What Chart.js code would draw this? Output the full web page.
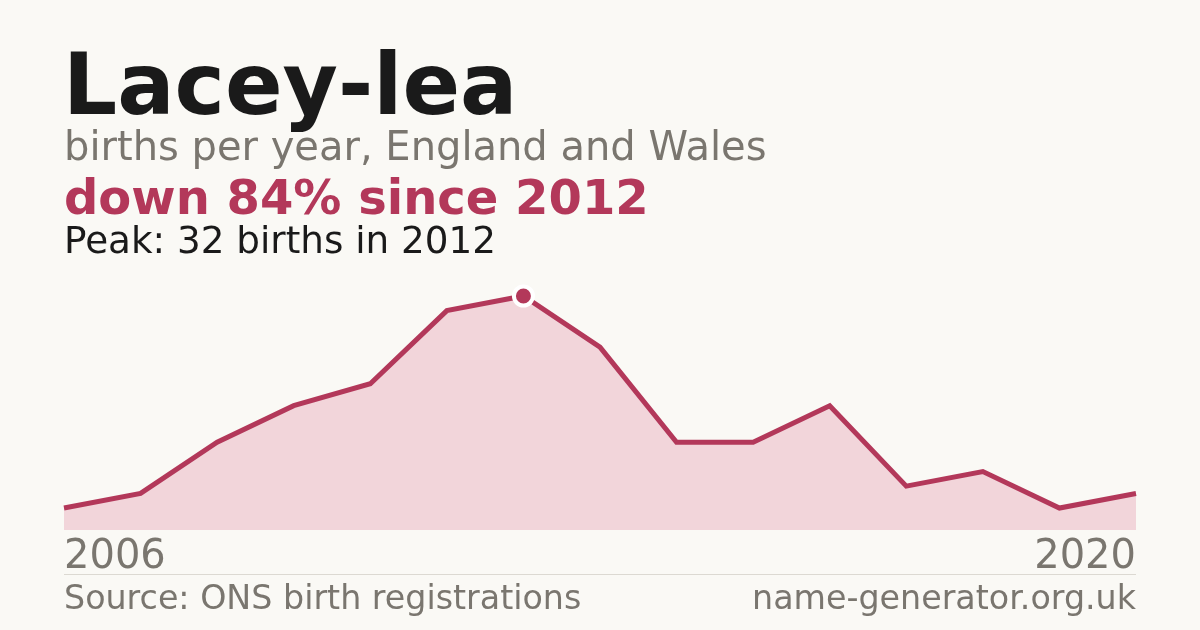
<!DOCTYPE html>
<html><head><meta charset="utf-8">
<script src="https://cdn.jsdelivr.net/npm/chart.js@4/dist/chart.umd.min.js"></script>
<style>
html,body{margin:0;padding:0;background:#faf9f5;}
#wrap{width:1200px;height:630px;position:relative;}
canvas{display:block;}
</style></head>
<body><div id="wrap"><canvas id="c" width="1200" height="630"></canvas></div>
<script>
const years = [2006,2007,2008,2009,2010,2011,2012,2013,2014,2015,2016,2017,2018,2019,2020];
const births = [3,5,12,17,20,30,32,25,12,12,17,6,8,3,5];
const peakIndex = 6;
const titleText = "Lacey-lea";
const subtitleText = "births per year, England and Wales";
const changeText = "down 84% since 2012";
const peakText = "Peak: 32 births in 2012";
const sourceText = "Source: ONS birth registrations";
const siteText = "name-generator.org.uk";

const FONT = '"DejaVu Sans", sans-serif';
const RED = '#b3385a';
const GRAY = '#7a766f';
const DARK = '#1a1a1a';

const textPlugin = {
  id: 'texts',
  beforeDraw(chart){
    const ctx = chart.ctx;
    ctx.save();
    ctx.fillStyle = '#faf9f5';
    ctx.fillRect(0,0,chart.width,chart.height);
    ctx.restore();
  },
  afterDraw(chart){
    const ctx = chart.ctx;
    const a = chart.chartArea;
    ctx.save();
    ctx.textBaseline = 'alphabetic';
    ctx.textAlign = 'left';
    ctx.fillStyle = DARK;
    ctx.font = 'bold 85px ' + FONT;
    ctx.fillText(titleText, 63, 114);
    ctx.fillStyle = GRAY;
    ctx.font = '40px ' + FONT;
    ctx.fillText(subtitleText, 64, 160);
    ctx.fillStyle = RED;
    ctx.font = 'bold 48px ' + FONT;
    ctx.fillText(changeText, 64, 214);
    ctx.fillStyle = DARK;
    ctx.font = '37.3px ' + FONT;
    ctx.fillText(peakText, 64, 253);
    // divider
    ctx.strokeStyle = '#dcd9d2';
    ctx.lineWidth = 1;
    ctx.beginPath();
    ctx.moveTo(a.left, 574.5);
    ctx.lineTo(a.right, 574.5);
    ctx.stroke();
    ctx.fillStyle = GRAY;
    ctx.font = '33.3px ' + FONT;
    ctx.fillText(sourceText, 64, 609);
    ctx.textAlign = 'right';
    ctx.fillText(siteText, a.right, 609);
    ctx.restore();
  }
};

new Chart(document.getElementById('c'), {
  type: 'line',
  data: {
    labels: years.map(String),
    datasets: [{
      data: births,
      borderColor: RED,
      borderWidth: 5,
      backgroundColor: '#f2d5da',
      fill: 'origin',
      tension: 0,
      borderJoinStyle: 'miter',
      pointRadius: births.map((v,i)=> i===peakIndex ? 9.5 : 0),
      pointHoverRadius: 0,
      pointBackgroundColor: RED,
      pointBorderColor: '#ffffff',
      pointBorderWidth: 4,
      clip: false
    }]
  },
  options: {
    responsive: false,
    animation: false,
    events: [],
    layout: { padding: { left: 64, right: 64, top: 296, bottom: 0 } },
    plugins: { legend: { display: false }, tooltip: { enabled: false } },
    scales: {
      x: {
        grid: { display: false, drawTicks: false },
        border: { display: false },
        afterFit(scale){ scale.height = 100; },
        ticks: {
          autoSkip: false,
          maxRotation: 0,
          align: 'inner',
          padding: 4,
          color: GRAY,
          font: { family: FONT, size: 40 },
          callback(v, i){ return (i === 0 || i === years.length - 1) ? years[i] : ''; }
        }
      },
      y: { display: false, min: 0, max: 32 }
    }
  },
  plugins: [textPlugin]
});
</script>
</body></html>
